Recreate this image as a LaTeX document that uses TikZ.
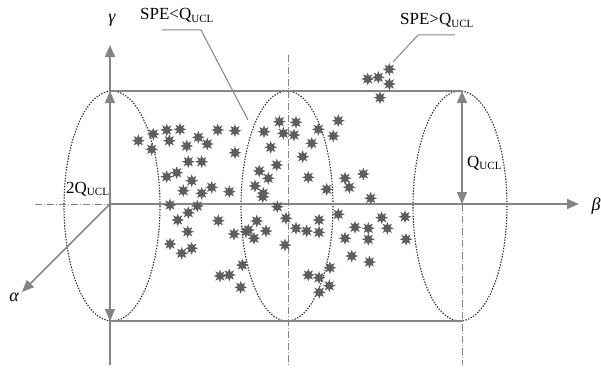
\documentclass[tikz,border=0pt]{standalone}
\usepackage{fontspec}
\setmainfont{Liberation Serif}
\usetikzlibrary{arrows.meta,shapes.geometric}
\definecolor{axisgray}{HTML}{858585}
\definecolor{stargray}{HTML}{5E5E5E}
\definecolor{dotgray}{HTML}{2E2E2E}
\newcommand{\myucl}{\raisebox{-0.35ex}{\fontsize{11}{11}\selectfont UCL}}
\begin{document}
\begin{tikzpicture}[x=1pt,y=-1pt,
  axisline/.style={draw=axisgray,line width=1.5pt},
  tipped/.style={-{Triangle[length=12pt,width=10pt]}},
  twotipped/.style={{Triangle[length=12pt,width=10pt]}-{Triangle[length=12pt,width=10pt]}},
  dashdotline/.style={draw=axisgray,line width=0.8pt,dash pattern=on 7pt off 2pt on 1pt off 2pt},
  dotell/.style={draw=dotgray,line width=1.1pt,dash pattern=on 1.4pt off 1.4pt},
  leader/.style={draw=axisgray,line width=1pt},
  lbl/.style={inner sep=0pt,font=\fontsize{17}{17}\selectfont},
  greek/.style={inner sep=0pt,font=\fontsize{18}{18}\selectfont\itshape},
  starnode/.style={star,star points=8,star point ratio=2,minimum size=13pt,inner sep=0pt,fill=stargray,draw=none}]
\useasboundingbox (0,0) rectangle (601,369);
% coordinates
\coordinate (O) at (110,204);
\coordinate (Ybot) at (110,365);
\coordinate (Ytop) at (110,45);
\coordinate (Xend) at (579,204);
\coordinate (Xleft) at (35,204);
\coordinate (Aend) at (22,292);
\coordinate (LT) at (110,91);
\coordinate (LB) at (110,321);
\coordinate (RT) at (462,91);
\coordinate (RB) at (462,321);
\coordinate (RC) at (462,204);
\coordinate (Rlow) at (462,365);
\coordinate (Mtop) at (288,55);
\coordinate (Mbot) at (288,365);
% dash-dot guides
\draw[dashdotline] (Xleft) -- (O);
\draw[dashdotline] (Mtop) -- (Mbot);
\draw[dashdotline] (RC) -- (Rlow);
% ellipses
\draw[dotell] (112,206) ellipse [x radius=48, y radius=115];
\draw[dotell] (287,206) ellipse [x radius=46, y radius=115];
\draw[dotell] (460,206) ellipse [x radius=47, y radius=115];
% cylinder lines
\draw[axisline] (LT) -- (RT);
\draw[axisline] (LB) -- (RB);
% axes
\draw[axisline,tipped] (Ybot) -- (Ytop);
\draw[axisline,tipped] (O) -- (Xend);
\draw[axisline,tipped] (O) -- (Aend);
% dimension arrows
\draw[axisline,twotipped] (LB) -- (LT);
\draw[axisline,twotipped] (RC) -- (RT);
% labels
\node[greek] (gam) at (112,20) {γ};
\node[greek] (bet) at (596,206) {β};
\node[greek] (alp) at (14,297) {α};
\node[lbl,anchor=base west] (twoq) at (66,193) {2Q\myucl};
\node[lbl,anchor=base west] (qucl) at (467,167) {Q\myucl};
\node[lbl,anchor=base west] (spelt) at (140,20) {SPE<Q\myucl};
\node[lbl,anchor=base west] (spegt) at (400,25) {SPE>Q\myucl};
% stars
\foreach \x/\y [count=\i] in {
138.3/140.7,153.3/134,166.7/130,180/129.3,169.3/140.7,151.7/149.3,186.7/146,198.3/137.3,207.3/144,217.7/130,235/130.7,235/152.7,188.3/161.7,201.7/161.7,166.7/176.7,176.7/172.7,191.7/180.7,183.3/190.7,201.7/193.3,211.7/187.3,229.3/191.7,170/205,197.3/206,188.3/212.7,177.7/220,218.3/220.7,187.7/231.7,170/244,181.7/253.3,191.7/248.3,234/234,246/231.7,242.3/265,220/276,229.3/275,240.7/287.3,
279.3/121.7,296/122.3,264/131.7,283.3/133.3,294/135,318.3/129.3,338.3/120.7,333.3/136,311.7/143.3,270.7/147.3,302.7/156.7,276.7/165,259.3/171,268.3/178.3,255/186,263.3/193.3,308.3/177.3,326.7/189.3,345/178.3,262.7/196.7,277.3/206.7,286/218.3,256.7/221,248.3/230,266/231,254/238.3,285/245,296/228.3,306.7/231,319/220,319/232.3,338.3/214.3,345/238.3,308.3/275,319/277.7,330/267.7,329.3/285.7,319.3/292.3,
349.3/187.3,363.3/174,370.7/198.3,381.7/217.7,405/216.7,355/227.3,368.3/228.3,387.3/228.3,368.3/239.3,406/239.3,351.7/256,369.5/262,
367.7/79,378.3/77.3,389.3/69.3,389.3/84,380/97.7}
  \node[starnode] (s\i) at (\x,\y) {};
% leaders
\coordinate (L1a) at (162,30);
\coordinate (L1b) at (201,30);
\coordinate (L1c) at (248,120);
\draw[leader] (L1a) -- (L1b) -- (L1c);
\coordinate (L2a) at (455,35);
\coordinate (L2b) at (418,35);
\coordinate (L2c) at (393,62);
\draw[leader] (L2a) -- (L2b) -- (L2c);
\end{tikzpicture}
\end{document}
